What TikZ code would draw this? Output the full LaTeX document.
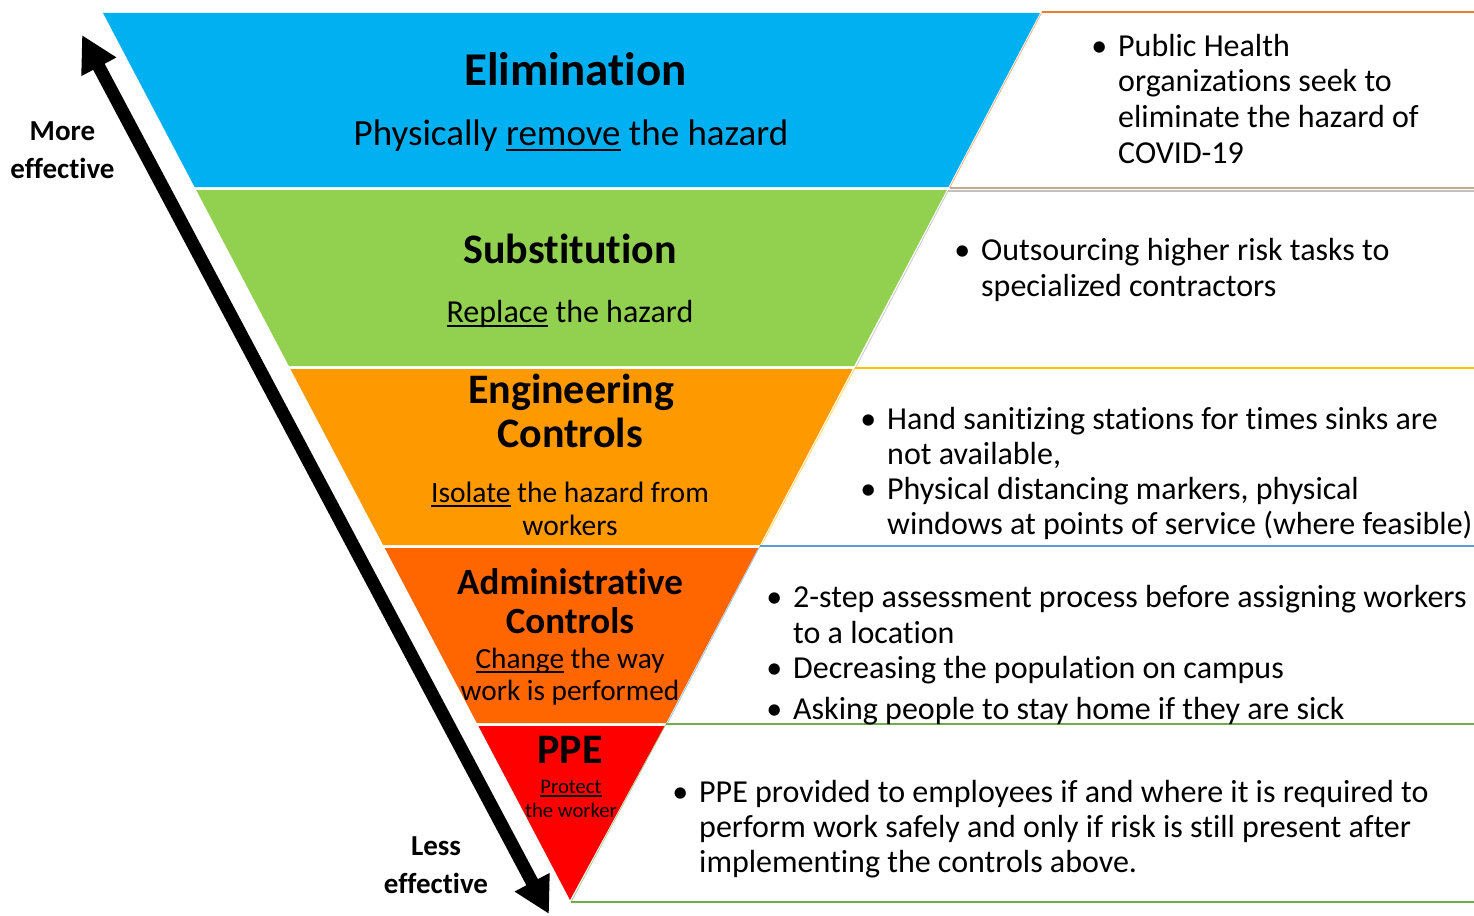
\documentclass[tikz,border=0pt]{standalone}
\usepackage{fontspec}
\setmainfont{Carlito}[RawFeature={-liga;-clig}]
\usetikzlibrary{arrows.meta}
\definecolor{elimc}{HTML}{00B0F0}
\definecolor{subsc}{HTML}{92D050}
\definecolor{engc}{HTML}{FF9900}
\definecolor{admc}{HTML}{FF6600}
\definecolor{ppec}{HTML}{FF0000}
\definecolor{lorange}{HTML}{ED7D31}
\definecolor{ltan}{HTML}{C4AB96}
\definecolor{lgray}{HTML}{A5A5A5}
\definecolor{lgold}{HTML}{FFC000}
\definecolor{lblue}{HTML}{5B9BD5}
\definecolor{lgreen}{HTML}{70AD47}
\newsavebox\ulbox
\newcommand\myul[1]{\sbox\ulbox{#1}\rlap{\rule[-0.17em]{\wd\ulbox}{0.065em}}\usebox\ulbox}
\newcommand\bl{\llap{•\hspace{11pt}}}
\tikzset{
  ttl/.style={font=\bfseries\fontsize{42}{46}\selectfont, anchor=base, inner sep=0pt},
  rt/.style={font=\fontsize{32}{35}\selectfont, anchor=base west, inner sep=0pt},
  lbl/.style={font=\bfseries\fontsize{29}{32}\selectfont, anchor=base, inner sep=0pt},
  topline/.style={line width=2.5pt},
  slant/.style={line width=0.8pt, opacity=0.6},
}
\begin{document}
\begin{tikzpicture}[x=1pt,y=-1pt]
\useasboundingbox (0,0) rectangle (1474,915);
% bands of the inverted triangle
\fill[elimc] (103,13) -- (1040,13) -- (948.4,187) -- (194.6,187) -- cycle;
\fill[subsc] (196.2,190) -- (946.8,190) -- (854.1,366) -- (288.9,366) -- cycle;
\fill[engc] (290.4,369) -- (852.6,369) -- (759.9,545) -- (383.1,545) -- cycle;
\fill[admc] (384.7,548) -- (758.3,548) -- (666.2,723) -- (476.8,723) -- cycle;
\fill[ppec] (478.4,726) -- (664.6,726) -- (570,900) -- cycle;
% right panels
\draw[slant, lorange] (1042,12) -- (949.5,188);
\draw[topline, lorange] (1042,12) -- (1474,12);
\draw[line width=2pt, ltan] (949.5,188.3) -- (1474,188.3);
\draw[slant, lgray] (948,191) -- (856,367);
\draw[line width=1.6pt, lgray!70] (948,190.8) -- (1474,190.8);
\draw[slant, lgold] (855,368) -- (761,546);
\draw[topline, lgold] (855,368) -- (1474,368);
\draw[slant, lblue] (760,546) -- (667,724);
\draw[topline, lblue] (760,546) -- (1474,546);
\draw[slant, lgreen] (666,724) -- (571,902);
\draw[topline, lgreen] (666,724) -- (1474,724);
\draw[topline, lgreen] (571,902) -- (1474,902);
% left band texts
\node[ttl, font=\bfseries\fontsize{47}{50}\selectfont] (elim) at (575.5,86) {Elimination};
\node[ttl, font=\fontsize{37}{40}\selectfont] (elimsub) at (571,145) {Physically \myul{remove} the hazard};
\node[ttl] (subs) at (570,263) {Substitution};
\node[ttl, font=\fontsize{32}{35}\selectfont] (subssub) at (570,322) {\myul{Replace} the hazard};
\node[ttl] (eng1) at (571,403) {Engineering};
\node[ttl] (eng2) at (570,447) {Controls};
\node[ttl, font=\fontsize{29.5}{33}\selectfont] (engsub1) at (570,502) {\myul{Isolate} the hazard from};
\node[ttl, font=\fontsize{29.5}{33}\selectfont] (engsub2) at (570,535) {workers};
\node[ttl, font=\bfseries\fontsize{37}{40}\selectfont] (adm1) at (570,594) {Administrative};
\node[ttl, font=\bfseries\fontsize{37}{40}\selectfont] (adm2) at (570,633) {Controls};
\node[ttl, font=\fontsize{29.3}{32}\selectfont] (admsub1) at (570,668) {\myul{Change} the way};
\node[ttl, font=\fontsize{29.3}{32}\selectfont] (admsub2) at (570,700) {work is performed};
\node[ttl] (ppe) at (570,763) {PPE};
\node[ttl, font=\fontsize{20.7}{23}\selectfont] (ppesub1) at (571,793) {\myul{Protect}};
\node[ttl, font=\fontsize{20.7}{23}\selectfont] (ppesub2) at (571,817) {the worker};
% right texts
\node[rt] (p1a) at (1118,57) {\bl Public Health};
\node[rt] (p1b) at (1118,92) {organizations seek to};
\node[rt] (p1c) at (1118,128) {eliminate the hazard of};
\node[rt] (p1d) at (1118,163) {COVID-19};
\node[rt] (p2a) at (981,260) {\bl Outsourcing higher risk tasks to};
\node[rt] (p2b) at (981,296) {specialized contractors};
\node[rt] (p3a) at (887,429) {\bl Hand sanitizing stations for times sinks are};
\node[rt] (p3b) at (887,464) {not available,};
\node[rt] (p3c) at (887,499) {\bl Physical distancing markers, physical};
\node[rt] (p3d) at (887,534) {windows at points of service (where feasible)};
\node[rt] (p4a) at (793,607) {\bl 2-step assessment process before assigning workers};
\node[rt] (p4b) at (793,643) {to a location};
\node[rt] (p4c) at (793,678) {\bl Decreasing the population on campus};
\node[rt] (p4d) at (793,719) {\bl Asking people to stay home if they are sick};
\node[rt] (p5a) at (699,802) {\bl PPE provided to employees if and where it is required to};
\node[rt] (p5b) at (699,837) {perform work safely and only if risk is still present after};
\node[rt] (p5c) at (699,872) {implementing the controls above.};
% effectiveness arrow
\node[lbl] (more1) at (62.5,140) {More};
\node[lbl] (more2) at (62.5,178) {effective};
\node[lbl] (less1) at (436,855) {Less};
\node[lbl] (less2) at (436,893) {effective};
\coordinate (up) at (82,35);
\coordinate (dn) at (549,914);
\draw[line width=13pt, {Triangle[length=36pt,width=37pt]}-{Triangle[length=36pt,width=37pt]}] (dn) -- (up);
\end{tikzpicture}
\end{document}
